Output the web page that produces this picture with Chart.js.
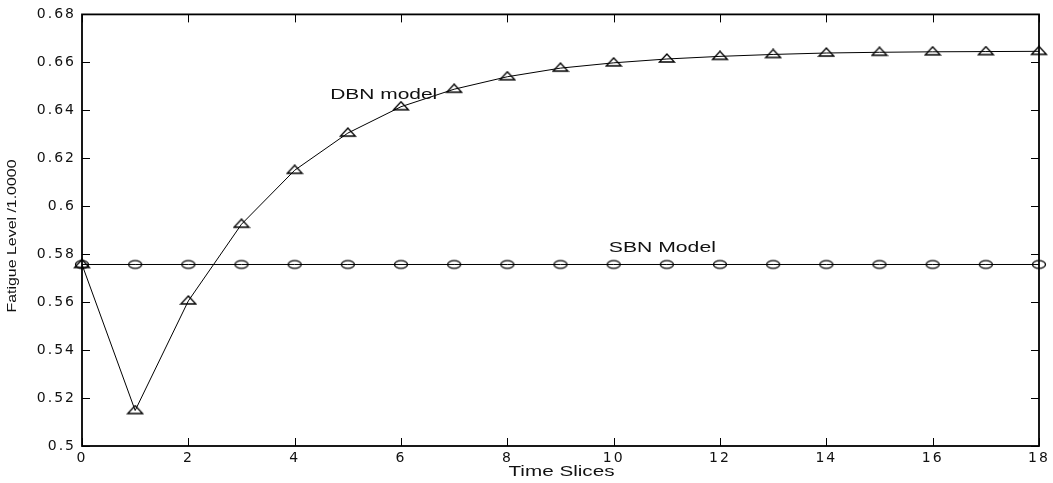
<!DOCTYPE html>
<html>
<head>
<meta charset="utf-8">
<script src="https://cdn.jsdelivr.net/npm/chart.js@4/dist/chart.umd.min.js"></script>
<style>
  html, body { margin: 0; padding: 0; background: #fff; }
  #wrap { width: 1053px; height: 483px; }
</style>
</head>
<body>
<div id="wrap"><canvas id="fatigueChart" width="1053" height="483"></canvas></div>
<script>
// data
const timeSlices = [0, 1, 2, 3, 4, 5, 6, 7, 8, 9, 10, 11, 12, 13, 14, 15, 16, 17, 18];
const dbnValues = [0.5757, 0.5148, 0.5605, 0.5925, 0.615, 0.6305, 0.6415, 0.6488, 0.6540, 0.6576, 0.6598, 0.6614, 0.6625, 0.6633, 0.6639, 0.6642, 0.6644, 0.6645, 0.6646];
const sbnValues = [0.5757, 0.5757, 0.5757, 0.5757, 0.5757, 0.5757, 0.5757, 0.5757, 0.5757, 0.5757, 0.5757, 0.5757, 0.5757, 0.5757, 0.5757, 0.5757, 0.5757, 0.5757, 0.5757];
const xTicks = [0, 2, 4, 6, 8, 10, 12, 14, 16, 18];
const yTicks = [0.5, 0.52, 0.54, 0.56, 0.58, 0.6, 0.62, 0.64, 0.66, 0.68];
// text labels placed in data coordinates
const seriesLabels = [
    { text: 'DBN model', x: 4.66, y: 0.6464 },
    { text: 'SBN Model', x: 9.9, y: 0.5826 }
];
const xTitle = 'Time Slices';
const yTitle = 'Fatigue Level /1.0000';

// MATLAB-like hollow markers (flattened, as in the picture)
function makeMarker(kind) {
    const c = document.createElement('canvas');
    c.width = 18; c.height = 12;
    const g = c.getContext('2d');
    g.strokeStyle = '#000';
    g.lineWidth = 1.3;
    g.beginPath();
    if (kind === 'tri') {
        g.moveTo(9, 1);
        g.lineTo(16.5, 9);
        g.lineTo(1.5, 9);
        g.closePath();
    } else {
        g.ellipse(9, 6, 6.5, 3.8, 0, 0, Math.PI * 2);
    }
    g.stroke();
    return c;
}

// text stretched to a given width (the reference fonts are wide)
function drawStretched(ctx, text, cx, cy, font, width, angle) {
    ctx.save();
    ctx.font = font;
    ctx.letterSpacing = '0px';
    const w = ctx.measureText(text).width;
    ctx.translate(cx, cy);
    if (angle) ctx.rotate(angle);
    ctx.scale(width / w, 1);
    ctx.textAlign = 'center';
    ctx.textBaseline = 'middle';
    ctx.fillText(text, 0, 0);
    ctx.restore();
}

// inward ticks on all four sides + frame + texts
const matlabAxes = {
    id: 'matlabAxes',
    beforeDraw(chart) {
        chart.ctx.letterSpacing = '2px';
    },
    afterDatasetsDraw(chart) {
        const { ctx, chartArea: a, scales } = chart;
        const len = 8;
        ctx.save();
        ctx.strokeStyle = '#000';
        ctx.lineWidth = 1;
        ctx.beginPath();
        xTicks.forEach(v => {
            const px = Math.round(scales.x.getPixelForValue(v)) + 0.5;
            ctx.moveTo(px, a.bottom); ctx.lineTo(px, a.bottom - len);
            ctx.moveTo(px, a.top); ctx.lineTo(px, a.top + len);
        });
        yTicks.forEach(v => {
            const py = Math.round(scales.y.getPixelForValue(v)) + 0.5;
            ctx.moveTo(a.left, py); ctx.lineTo(a.left + len, py);
            ctx.moveTo(a.right, py); ctx.lineTo(a.right - len, py);
        });
        ctx.stroke();
        ctx.lineWidth = 1.8;
        ctx.strokeRect(a.left, a.top, a.right - a.left, a.bottom - a.top);
        ctx.restore();

        ctx.fillStyle = '#111';
        const f = '14px "Liberation Sans", Arial, sans-serif';
        seriesLabels.forEach(l => {
            const px = scales.x.getPixelForValue(l.x);
            const py = scales.y.getPixelForValue(l.y);
            drawStretched(ctx, l.text, px + 54, py, f, 107, 0);
        });
        drawStretched(ctx, xTitle, (a.left + a.right) / 2 + 1, 472, f, 106, 0);
        drawStretched(ctx, yTitle, 13, 236, '12px "Liberation Sans Narrow", "Liberation Sans", sans-serif', 153, -Math.PI / 2);
    }
};

new Chart(document.getElementById('fatigueChart'), {
    type: 'line',
    data: {
        labels: timeSlices,
        datasets: [
            {
                label: 'DBN model',
                data: timeSlices.map((t, i) => ({ x: t, y: dbnValues[i] })),
                borderColor: '#000',
                borderWidth: 1,
                pointStyle: makeMarker('tri'),
                pointRadius: 7,
                tension: 0,
                clip: false
            },
            {
                label: 'SBN Model',
                data: timeSlices.map((t, i) => ({ x: t, y: sbnValues[i] })),
                borderColor: '#000',
                borderWidth: 1,
                pointStyle: makeMarker('circ'),
                pointRadius: 7,
                tension: 0,
                clip: false
            }
        ]
    },
    options: {
        responsive: false,
        animation: false,
        layout: { padding: { top: 12, right: 14, left: 0, bottom: 0 } },
        plugins: {
            legend: { display: false },
            tooltip: { enabled: false }
        },
        scales: {
            x: {
                type: 'linear',
                min: 0,
                max: 18,
                afterBuildTicks: s => { s.ticks = xTicks.map(v => ({ value: v })); },
                afterFit: s => { s.height = 37; },
                grid: { display: false, drawTicks: false },
                border: { display: false },
                ticks: {
                    color: '#111',
                    padding: 4,
                    maxRotation: 0,
                    font: { family: '"DejaVu Sans", sans-serif', size: 14 }
                }
            },
            y: {
                type: 'linear',
                min: 0.5,
                max: 0.68,
                afterBuildTicks: s => { s.ticks = yTicks.map(v => ({ value: v })); },
                afterFit: s => { s.width = 82; },
                grid: { display: false, drawTicks: false },
                border: { display: false },
                ticks: {
                    color: '#111',
                    padding: 6,
                    font: { family: '"DejaVu Sans", sans-serif', size: 14 },
                    callback: v => String(Number(v.toFixed(2)))
                }
            }
        }
    },
    plugins: [matlabAxes]
});
</script>
</body>
</html>
